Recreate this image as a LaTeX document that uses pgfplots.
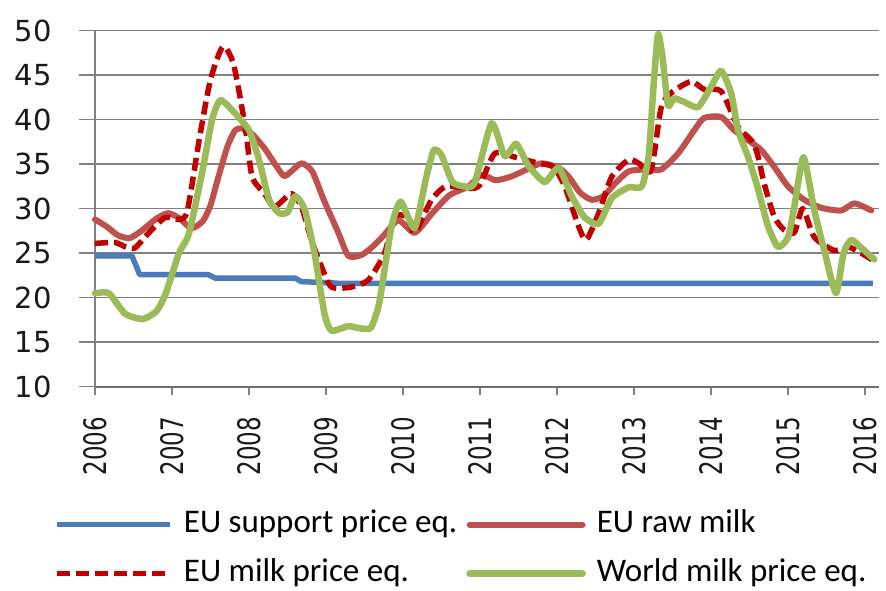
\documentclass[border=0pt]{standalone}
\usepackage{pgfplots}
\pgfplotsset{compat=1.18}
\usepackage{fontspec}
\setmainfont{Carlito}
\newfontfamily\tickfont{DejaVu Sans}
\definecolor{cblue}{RGB}{74,124,186}
\definecolor{cred}{RGB}{192,80,77}
\definecolor{cdred}{RGB}{192,0,0}
\definecolor{cgreen}{RGB}{155,187,89}
\definecolor{cgrid}{RGB}{128,128,128}
\begin{document}
\begin{tikzpicture}
\useasboundingbox (0,0) rectangle (886pt,590pt);
\begin{axis}[
  at={(95pt,203.3pt)}, anchor=south west,
  scale only axis, width=784pt, height=356pt,
  xmin=2006, xmax=2016.18, ymin=10, ymax=50,
  xtick={2006,2007,...,2016}, ytick={10,15,...,50},
  axis lines*=left,
  axis x line*=bottom,
  x axis line style={color=cgrid!85!black, line width=2pt},
  y axis line style={color=cgrid, line width=1.2pt},
  ymajorgrids, grid style={color=cgrid, line width=1.5pt},
  tick align=outside, major tick length=16pt,
  ytick style={color=cgrid, line width=1.5pt},
  xtick style={color=cgrid, line width=1.2pt, /pgfplots/major tick length=8pt},
  /pgf/number format/assume math mode=true,
  /pgf/number format/1000 sep={},
  yticklabel={\tickfont\fontsize{29}{30}\selectfont\pgfmathprintnumber{\tick}},
  yticklabel style={anchor=east, xshift=-24pt, text=black!90},
  xticklabel={\scalebox{0.74}[1]{\tickfont\fontsize{31}{32}\selectfont\pgfmathprintnumber{\tick}}},
  xticklabel style={rotate=90, anchor=east, inner sep=0pt, xshift=-14pt, yshift=0pt, text=black!90},
  clip=false,
  legend columns=2,
  legend cell align=left,
  legend image code/.code={\draw[#1] (0pt,0pt) -- (113pt,0pt);},
  legend style={draw=none, fill=none, inner sep=0pt,
    at={(axis description cs:-0.052,-0.345)}, anchor=north west,
    font=\fontsize{33}{36}\selectfont,
    nodes={inner sep=0pt, text depth=7pt, text height=23pt},
    row sep=19pt,
    /tikz/every odd column/.append style={column sep=11pt},
    /tikz/every even column/.append style={column sep=9pt}},
  every axis plot/.append style={line join=round, line cap=round},
]
% EU support price eq.
\addplot[cblue, line width=5.5pt, line cap=butt] coordinates {
(2006.0,24.7) (2006.48,24.7) (2006.58,22.6) (2007.47,22.6) (2007.56,22.2) (2008.6,22.2) (2008.68,21.8) (2009.0,21.7) (2009.2,21.6) (2016.1,21.6)
};
\addlegendentry{EU support price eq.}
% EU raw milk
\addplot[cred, line width=6pt, smooth, tension=0.4] coordinates {
(2006.0,28.8) (2006.15,28.0) (2006.3,27.0) (2006.45,26.7) (2006.6,27.5) (2006.8,28.9) (2006.95,29.5) (2007.1,28.9) (2007.25,27.8) (2007.4,28.6) (2007.5,30.4) (2007.6,33.5) (2007.72,37.0) (2007.82,38.8) (2007.92,39.0) (2008.05,38.3) (2008.2,36.8) (2008.3,35.5) (2008.45,33.7) (2008.55,34.2) (2008.68,35.1) (2008.82,34.2) (2008.98,30.8) (2009.15,27.5) (2009.29,24.7) (2009.46,24.8) (2009.6,25.7) (2009.75,27.0) (2009.94,28.7) (2010.15,27.3) (2010.37,29.4) (2010.6,31.5) (2010.85,32.5) (2011.02,33.8) (2011.2,33.2) (2011.4,33.6) (2011.58,34.3) (2011.8,35.1) (2012.02,34.6) (2012.15,33.6) (2012.3,31.8) (2012.45,31.0) (2012.6,31.4) (2012.75,32.8) (2012.93,34.2) (2013.15,34.4) (2013.35,34.4) (2013.57,36.2) (2013.78,38.8) (2013.91,40.2) (2014.13,40.3) (2014.3,38.8) (2014.48,37.7) (2014.65,36.6) (2014.82,34.7) (2015.0,32.5) (2015.21,31.0) (2015.43,30.1) (2015.69,29.8) (2015.86,30.6) (2016.08,29.8)
};
\addlegendentry{EU raw milk}
% EU milk price eq.
\addplot[cdred, line width=5.5pt, smooth, tension=0.4, dash pattern=on 13pt off 6pt, line cap=butt] coordinates {
(2006.0,26.1) (2006.26,26.2) (2006.4,25.7) (2006.52,25.6) (2006.7,27.3) (2006.91,29.0) (2007.1,28.8) (2007.2,29.8) (2007.36,38.1) (2007.5,44.5) (2007.66,48.2) (2007.8,46.2) (2007.95,39.2) (2008.04,33.6) (2008.2,31.7) (2008.33,30.2) (2008.55,31.7) (2008.68,30.2) (2008.81,26.5) (2008.94,23.5) (2009.07,21.2) (2009.33,21.2) (2009.55,22.0) (2009.76,25.0) (2009.89,29.1) (2010.07,29.0) (2010.15,27.3) (2010.37,31.0) (2010.55,32.5) (2010.75,32.4) (2010.98,32.5) (2011.19,36.2) (2011.45,35.8) (2011.76,35.1) (2011.95,34.7) (2012.1,32.5) (2012.28,28.0) (2012.38,26.5) (2012.54,29.5) (2012.71,33.6) (2012.93,35.5) (2013.06,35.1) (2013.22,34.3) (2013.35,41.3) (2013.48,43.0) (2013.74,44.3) (2013.91,43.4) (2014.13,43.2) (2014.35,39.2) (2014.52,37.7) (2014.6,36.2) (2014.69,32.8) (2014.82,29.1) (2014.95,27.6) (2015.08,27.3) (2015.19,30.0) (2015.34,26.8) (2015.6,25.3) (2015.78,25.7) (2015.95,25.0) (2016.14,24.0)
};
\addlegendentry{EU milk price eq.}
% World milk price eq.
\addplot[cgreen, line width=6.5pt, smooth, tension=0.35] coordinates {
(2006.0,20.5) (2006.18,20.5) (2006.39,18.2) (2006.62,17.6) (2006.8,18.5) (2006.92,20.5) (2007.09,25.0) (2007.22,27.2) (2007.39,34.0) (2007.52,40.0) (2007.63,42.2) (2007.82,40.7) (2008.0,38.8) (2008.13,35.5) (2008.26,31.0) (2008.39,29.5) (2008.5,29.6) (2008.6,31.4) (2008.72,30.0) (2008.85,25.0) (2008.98,18.2) (2009.07,16.3) (2009.29,16.8) (2009.42,16.6) (2009.58,16.6) (2009.69,19.4) (2009.85,28.0) (2009.97,30.8) (2010.15,27.8) (2010.3,33.5) (2010.4,36.6) (2010.5,36.0) (2010.64,33.0) (2010.8,32.5) (2010.93,32.9) (2011.15,39.6) (2011.32,35.9) (2011.47,37.3) (2011.63,34.8) (2011.84,33.0) (2012.02,34.6) (2012.19,31.4) (2012.36,29.0) (2012.54,28.3) (2012.71,31.2) (2012.93,32.4) (2013.1,32.5) (2013.19,36.0) (2013.25,43.5) (2013.31,49.6) (2013.37,47.0) (2013.44,41.6) (2013.52,42.4) (2013.65,42.0) (2013.83,41.4) (2014.0,43.7) (2014.13,45.5) (2014.26,43.0) (2014.35,38.8) (2014.48,35.8) (2014.6,32.5) (2014.74,28.0) (2014.87,25.7) (2015.0,26.8) (2015.08,30.2) (2015.2,35.8) (2015.34,29.8) (2015.47,25.3) (2015.62,20.5) (2015.72,25.0) (2015.82,26.5) (2015.95,25.6) (2016.12,24.3)
};
\addlegendentry{World milk price eq.}
\end{axis}
\end{tikzpicture}
\end{document}
